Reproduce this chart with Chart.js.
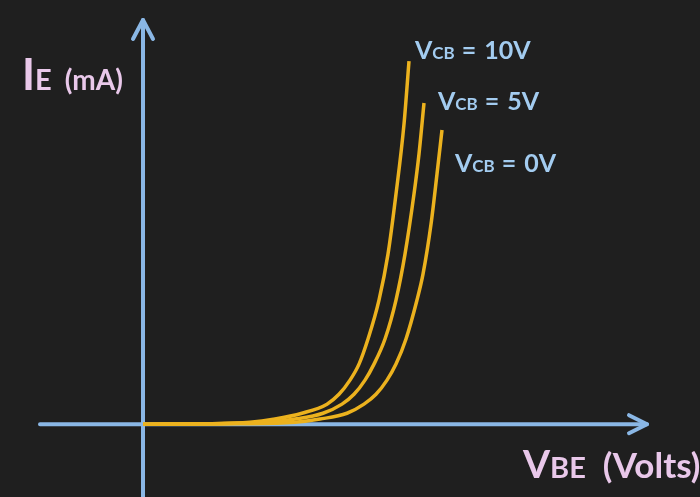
<!DOCTYPE html>
<html lang="en">
<head>
	<meta charset="UTF-8">
	<title>Input Characteristics</title>
	<script src="https://cdn.jsdelivr.net/npm/chart.js"></script>
	<style>
		html, body { margin: 0; padding: 0; background: #1f1f1f; }
		canvas { display: block; }
	</style>
</head>
<body>
	<canvas id="inputChart" width="700" height="497"></canvas>
<script>
	// curve values (VBE arbitrary units, IE in mA-ish units)
	const vbe10 = [0, 0.57, 1.07, 1.32, 1.59, 1.84, 1.96, 2.07, 2.16, 2.25, 2.36, 2.45, 2.53, 2.61, 2.66];
	const ie10  = [0, 0.01, 0.05, 0.14, 0.30, 0.55, 0.82, 1.21, 1.65, 2.34, 3.41, 4.67, 6.32, 8.24, 9.97];
	const vbe5  = [0, 0.67, 1.22, 1.52, 1.80, 1.99, 2.11, 2.22, 2.31, 2.42, 2.53, 2.62, 2.71, 2.76, 2.81];
	const ie5   = [0, 0.01, 0.05, 0.14, 0.30, 0.55, 0.82, 1.21, 1.65, 2.34, 3.41, 4.67, 6.32, 7.42, 8.82];
	const vbe0  = [0, 0.97, 1.52, 1.77, 2.04, 2.21, 2.33, 2.44, 2.53, 2.63, 2.74, 2.80, 2.88, 2.94, 2.99];
	const ie0   = [0, 0.01, 0.05, 0.14, 0.30, 0.55, 0.82, 1.21, 1.65, 2.34, 3.41, 4.12, 5.49, 6.87, 8.08];
	const seriesLabels = ['10V', '5V', '0V'];

	const curveColor = '#ecb21e';
	const axisColor = '#8ab7e5';
	const blueText = '#a3ccf0';
	const pinkText = '#e9c8ea';

	const toPoints = (xs, ys) => xs.map((x, i) => ({ x: x, y: ys[i] }));

	function drawRich(ctx, x, y, parts, color) {
		ctx.fillStyle = color;
		ctx.textBaseline = 'alphabetic';
		ctx.textAlign = 'left';
		parts.forEach(p => {
			ctx.font = 'bold ' + p.size + 'px Lato';
			ctx.fillText(p.t, x, y);
			x += ctx.measureText(p.t).width + (p.gap || 0);
		});
	}

	const axesPlugin = {
		id: 'axesPlugin',
		beforeDraw(chart) {
			const c = chart.ctx;
			c.save();
			c.fillStyle = '#1f1f1f';
			c.fillRect(0, 0, chart.width, chart.height);
			c.restore();
		},
		beforeDatasetsDraw(chart) {
			const c = chart.ctx;
			const xs = chart.scales.x, ys = chart.scales.y;
			const ox = xs.getPixelForValue(0), oy = ys.getPixelForValue(0);
			const xEnd = xs.getPixelForValue(5.04), xStart = xs.getPixelForValue(-1.03);
			const yEnd = ys.getPixelForValue(11.1), yStart = ys.getPixelForValue(-2.1);
			c.save();
			c.strokeStyle = axisColor;
			c.lineWidth = 4;
			c.lineCap = 'round';
			c.lineJoin = 'round';
			c.beginPath();
			c.moveTo(xStart, oy); c.lineTo(xEnd, oy);
			c.moveTo(ox, yStart); c.lineTo(ox, yEnd);
			c.stroke();
			// arrow heads
			c.beginPath();
			c.moveTo(xEnd - 18, oy - 9); c.lineTo(xEnd, oy); c.lineTo(xEnd - 18, oy + 9);
			c.moveTo(ox - 10, yEnd + 19); c.lineTo(ox, yEnd); c.lineTo(ox + 10, yEnd + 19);
			c.stroke();
			c.restore();
		},
		afterDraw(chart) {
			const c = chart.ctx;
			c.save();
			drawRich(c, 22, 90, [{ t: 'I', size: 44 }, { t: 'E', size: 29, gap: 13 }, { t: '(mA)', size: 28 }], pinkText);
			drawRich(c, 523, 478, [{ t: 'V', size: 39 }, { t: 'BE', size: 29, gap: 17 }, { t: '(Volts)', size: 35 }], pinkText);
			const pos = [[415, 59], [438, 110], [455, 172]];
			seriesLabels.forEach((s, i) => {
				drawRich(c, pos[i][0], pos[i][1], [{ t: 'V', size: 25 }, { t: 'CB', size: 17, gap: 7 }, { t: '=', size: 25, gap: 8 }, { t: s, size: 25 }], blueText);
			});
			c.restore();
		}
	};

	const ctx = document.getElementById('inputChart').getContext('2d');
	const inputChart = new Chart(ctx, {
		type: 'line',
		data: {
			datasets: [
				{ label: seriesLabels[0], data: toPoints(vbe10, ie10) },
				{ label: seriesLabels[1], data: toPoints(vbe5, ie5) },
				{ label: seriesLabels[2], data: toPoints(vbe0, ie0) }
			].map(d => Object.assign(d, {
				borderColor: curveColor,
				borderWidth: 3.5,
				pointRadius: 0,
				cubicInterpolationMode: 'monotone',
				fill: false
			}))
		},
		options: {
			responsive: false,
			devicePixelRatio: 1,
			animation: false,
			layout: { padding: 0 },
			plugins: { legend: { display: false }, tooltip: { enabled: false } },
			scales: {
				x: { type: 'linear', min: -1.43, max: 5.57, display: false },
				y: { type: 'linear', min: -2.0, max: 11.65, display: false }
			}
		},
		plugins: [axesPlugin]
	});
</script>
</body>
</html>
